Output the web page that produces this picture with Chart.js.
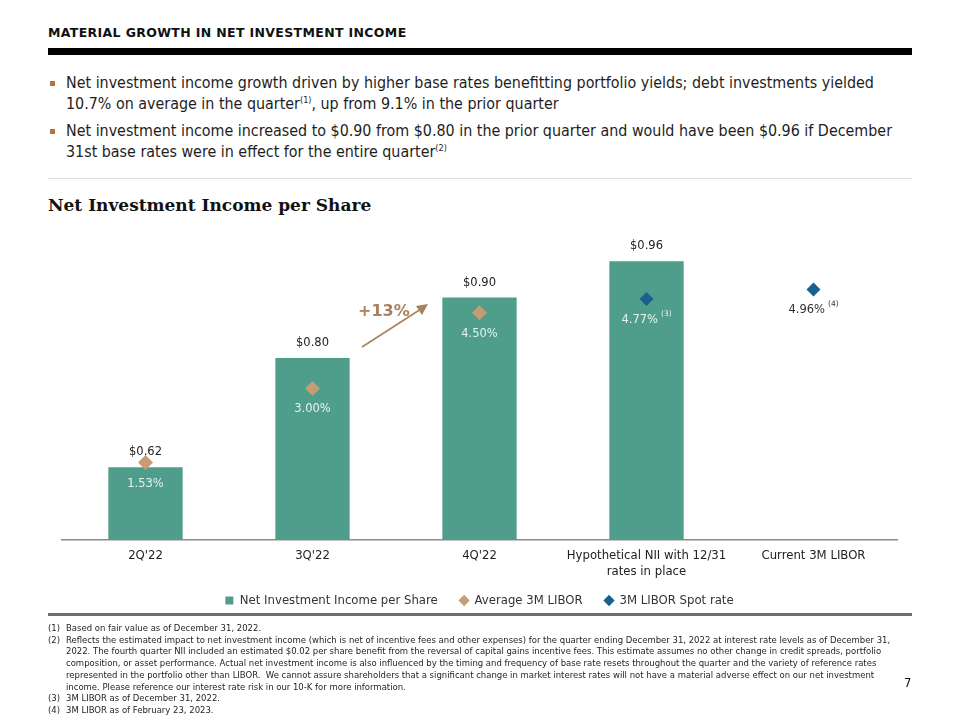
<!DOCTYPE html>
<html><head><meta charset="utf-8">
<script src="https://cdn.jsdelivr.net/npm/chart.js@4.4.1/dist/chart.umd.min.js"></script>
<style>
html,body{margin:0;padding:0;}
body{width:960px;height:720px;background:#fff;position:relative;overflow:hidden;font-family:"DejaVu Sans Condensed","DejaVu Sans",sans-serif;color:#1e1e1e;}
.abs{position:absolute;}
#title{left:48px;top:25px;font-family:"DejaVu Sans",sans-serif;font-weight:bold;font-size:12.5px;letter-spacing:0.35px;color:#111;white-space:nowrap;}
#bar{left:48px;top:48px;width:864px;height:7px;background:#000;}
.bul{left:66px;font-size:15.9px;line-height:21px;white-space:nowrap;color:#1e1e1e;}
.sq{width:5px;height:5px;background:#b8703c;left:50px;}
sup{font-size:9px;vertical-align:6px;line-height:0;}
#thin{left:48px;top:178px;width:864px;height:1px;background:#dcdcdc;}
#ctitle{left:48px;top:195px;font-family:"DejaVu Serif","Liberation Serif",serif;font-weight:bold;font-size:17px;color:#111;white-space:nowrap;}
#sep{left:48px;top:613px;width:864px;height:3px;background:#6e6e6e;}
#foot{left:48px;top:622px;font-size:9.45px;line-height:11.7px;color:#1e1e1e;}
#foot .r{white-space:nowrap;}
#foot .n{display:inline-block;width:18px;}
#foot .i{padding-left:18px;}
#pnum{left:904px;top:675px;font-size:13px;color:#111;}
#wrap{left:0;top:225px;width:960px;height:392px;}
</style></head>
<body>
<div class="abs" id="title">MATERIAL GROWTH IN NET INVESTMENT INCOME</div>
<div class="abs" id="bar"></div>
<div class="abs sq" style="top:81px"></div>
<div class="abs bul" style="top:72px">Net investment income growth driven by higher base rates benefitting portfolio yields; debt investments yielded<br>10.7% on average in the quarter<sup>(1)</sup>, up from 9.1% in the prior quarter</div>
<div class="abs sq" style="top:129px"></div>
<div class="abs bul" style="top:120px">Net investment income increased to $0.90 from $0.80 in the prior quarter and would have been $0.96 if December<br>31st base rates were in effect for the entire quarter<sup>(2)</sup></div>
<div class="abs" id="thin"></div>
<div class="abs" id="ctitle">Net Investment Income per Share</div>
<div class="abs" id="wrap"><canvas id="c" width="960" height="392"></canvas></div>
<svg class="abs" style="left:0;top:0" width="960" height="720">
  <text x="358" y="316" font-family="DejaVu Sans, sans-serif" font-weight="bold" font-size="16" fill="#a8825e">+13%</text>
  <line x1="362" y1="347" x2="421" y2="309" stroke="#a8825e" stroke-width="1.6"/>
  <polygon points="428,304 416,306 422,315" fill="#a8825e"/>
</svg>
<div class="abs" id="sep"></div>
<div class="abs" id="foot">
<div class="r"><span class="n">(1)</span>Based on fair value as of December 31, 2022.</div>
<div class="r"><span class="n">(2)</span>Reflects the estimated impact to net investment income (which is net of incentive fees and other expenses) for the quarter ending December 31, 2022 at interest rate levels as of December 31,</div>
<div class="r i">2022. The fourth quarter NII included an estimated $0.02 per share benefit from the reversal of capital gains incentive fees. This estimate assumes no other change in credit spreads, portfolio</div>
<div class="r i">composition, or asset performance. Actual net investment income is also influenced by the timing and frequency of base rate resets throughout the quarter and the variety of reference rates</div>
<div class="r i">represented in the portfolio other than LIBOR.&nbsp; We cannot assure shareholders that a significant change in market interest rates will not have a material adverse effect on our net investment</div>
<div class="r i">income. Please reference our interest rate risk in our 10-K for more information.</div>
<div class="r"><span class="n">(3)</span>3M LIBOR as of December 31, 2022.</div>
<div class="r"><span class="n">(4)</span>3M LIBOR as of February 23, 2023.</div>
</div>
<div class="abs" id="pnum">7</div>
<script>
const categories = ["2Q'22", "3Q'22", "4Q'22", ["Hypothetical NII with 12/31", "rates in place"], "Current 3M LIBOR"];
const niiPerShare = [0.62, 0.80, 0.90, 0.96, null];
const avgLibor = [1.53, 3.00, 4.50, null, null];
const spotLibor = [null, null, null, 4.77, 4.96];
const spotNotes = [null, null, null, "(3)", "(4)"];
const seriesNames = ["Net Investment Income per Share", "Average 3M LIBOR", "3M LIBOR Spot rate"];

const TEAL = '#4e9e8b', TAN = '#c59c76', BLUE = '#17628c';
const FONT = '"DejaVu Sans Condensed","DejaVu Sans",sans-serif';
const LFONT = '"DejaVu Sans",sans-serif';

const labelPlugin = {
  id: 'valueLabels',
  afterDatasetsDraw(chart) {
    const ctx = chart.ctx;
    ctx.save();
    ctx.textAlign = 'center';
    ctx.textBaseline = 'middle';
    const m0 = chart.getDatasetMeta(0);
    m0.data.forEach((el, i) => {
      const v = niiPerShare[i];
      if (v == null) return;
      ctx.font = '11.5px ' + LFONT;
      ctx.fillStyle = '#222';
      ctx.fillText('$' + v.toFixed(2), el.x, el.y - 15);
    });
    const drawPct = (meta, arr, notes) => {
      meta.data.forEach((el, i) => {
        const v = arr[i];
        if (v == null) return;
        const inside = niiPerShare[i] != null;
        const txt = v.toFixed(2) + '%';
        ctx.font = '11.5px ' + LFONT;
        const w = ctx.measureText(txt).width;
        let nw = 0, note = notes ? notes[i] : null;
        if (note) { ctx.font = '7.5px ' + LFONT; nw = ctx.measureText(note).width + 3; }
        const x0 = el.x - (w + nw) / 2;
        ctx.textAlign = 'left';
        ctx.font = '11.5px ' + LFONT;
        ctx.fillStyle = inside ? '#e6f2ee' : '#333';
        ctx.fillText(txt, x0, el.y + 21);
        if (note) {
          ctx.font = '7.5px ' + LFONT;
          ctx.fillText(note, x0 + w + 3, el.y + 15);
        }
        ctx.textAlign = 'center';
      });
    };
    drawPct(chart.getDatasetMeta(1), avgLibor, null);
    drawPct(chart.getDatasetMeta(2), spotLibor, spotNotes);
    ctx.restore();
  }
};

new Chart(document.getElementById('c'), {
  data: {
    labels: categories,
    datasets: [
      { type: 'bar', label: seriesNames[0], data: niiPerShare, yAxisID: 'y', backgroundColor: TEAL,
        barPercentage: 0.445, categoryPercentage: 1.0, order: 2 },
      { type: 'line', label: seriesNames[1], data: avgLibor, yAxisID: 'y1', showLine: false,
        pointStyle: 'rectRot', pointRadius: 7.5, pointBackgroundColor: TAN, pointBorderWidth: 0,
        borderColor: TAN, backgroundColor: TAN, order: 1 },
      { type: 'line', label: seriesNames[2], data: spotLibor, yAxisID: 'y1', showLine: false,
        pointStyle: 'rectRot', pointRadius: 7, pointBackgroundColor: BLUE, pointBorderWidth: 0,
        borderColor: BLUE, backgroundColor: BLUE, order: 0 }
    ]
  },
  options: {
    responsive: false,
    animation: false,
    layout: { padding: { left: 62, right: 63, top: 12, bottom: 0 } },
    plugins: {
      tooltip: { enabled: false },
      legend: {
        position: 'bottom',
        labels: {
          usePointStyle: true,
          boxWidth: 8, boxHeight: 8,
          padding: 15,
          color: '#333',
          font: { family: FONT, size: 13 },
          generateLabels(chart) {
            const items = Chart.defaults.plugins.legend.labels.generateLabels(chart);
            items.forEach((it) => {
              it.pointStyle = it.datasetIndex === 0 ? 'rect' : 'rectRot';
              it.lineWidth = 0;
              if (it.datasetIndex < 2) it.text = it.text + '  ';
            });
            return items.sort((a, b) => a.datasetIndex - b.datasetIndex);
          }
        }
      }
    },
    scales: {
      x: {
        grid: { display: false },
        border: { display: true, color: '#8a8a8a', width: 1.5 },
        ticks: { color: '#222', font: { family: FONT, size: 13 }, padding: 0, maxRotation: 0, autoSkip: false }
      },
      y: { display: false, min: 0.5, max: 1.0 },
      y1: { display: false, min: 0, max: 6, position: 'right' }
    }
  },
  plugins: [labelPlugin]
});
</script>
</body></html>
